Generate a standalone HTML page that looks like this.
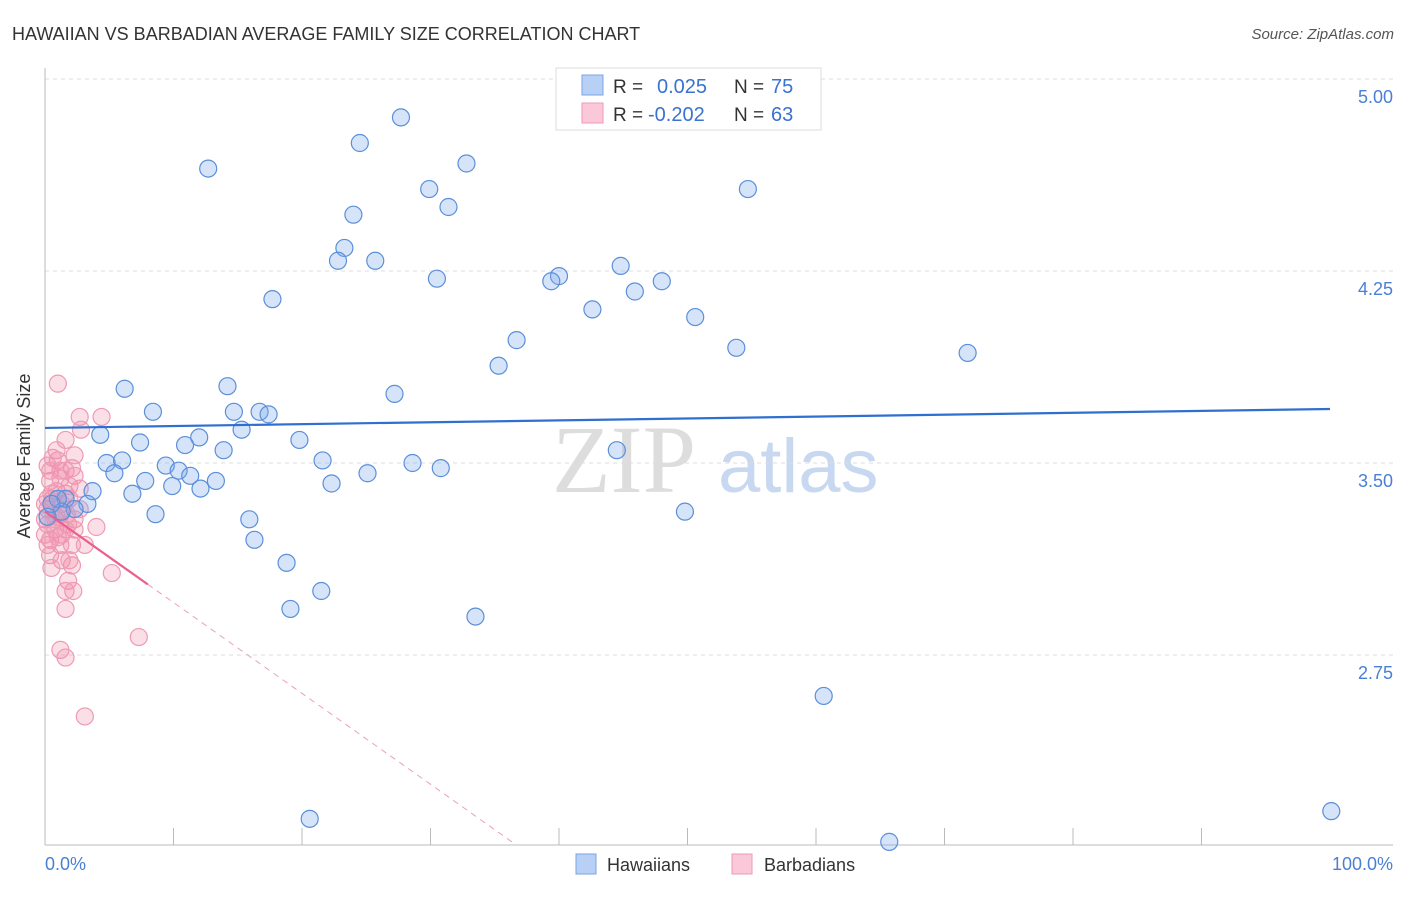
<!DOCTYPE html>
<html><head><meta charset="utf-8"><style>
body{margin:0;background:#fff;font-family:"Liberation Sans",sans-serif;}
</style></head><body>
<svg id="chart" width="1406" height="892" xmlns="http://www.w3.org/2000/svg">
<text x="12" y="40" font-size="18" fill="#333">HAWAIIAN VS BARBADIAN AVERAGE FAMILY SIZE CORRELATION CHART</text>
<text x="1394" y="39" font-size="15" fill="#555" font-style="italic" text-anchor="end">Source: ZipAtlas.com</text>
<g>
<text x="552" y="492" font-size="96" fill="#ddd" font-family="Liberation Serif">ZIP</text>
<text x="718" y="492" font-size="76" fill="#c8d8f0">atlas</text>
</g>
<g id="grid"></g>
<g id="axes"></g>
<g id="pts"></g>
<g id="trend"></g>
<text x="30" y="456" font-size="18" fill="#333" text-anchor="middle" transform="rotate(-90 30 456)">Average Family Size</text>
<text x="45" y="870" font-size="18" fill="#4a7fd6">0.0%</text>
<text x="1393" y="870" font-size="18" fill="#4a7fd6" text-anchor="end">100.0%</text>
<g>
<rect x="556" y="68" width="265" height="62" fill="#fff" stroke="#ddd"/>
<rect x="582" y="75" width="21" height="20" fill="#b8d0f5" stroke="#7aa4e4"/>
<rect x="582" y="103" width="21" height="20" fill="#fac8d8" stroke="#ef9ab6"/>
<text x="613" y="93" font-size="19" fill="#333">R = </text><text x="657" y="93" font-size="20" fill="#3a72d0">0.025</text>
<text x="734" y="93" font-size="19" fill="#333">N = </text><text x="771" y="93" font-size="20" fill="#3a72d0">75</text>
<text x="613" y="121" font-size="19" fill="#333">R = </text><text x="648" y="121" font-size="20" fill="#3a72d0">-0.202</text>
<text x="734" y="121" font-size="19" fill="#333">N = </text><text x="771" y="121" font-size="20" fill="#3a72d0">63</text>
</g>
<g>
<rect x="576" y="854" width="20" height="20" fill="#b8d0f5" stroke="#7aa4e4"/>
<text x="607" y="871" font-size="18" fill="#333">Hawaiians</text>
<rect x="732" y="854" width="20" height="20" fill="#fac8d8" stroke="#ef9ab6"/>
<text x="764" y="871" font-size="18" fill="#333">Barbadians</text>
</g>
</svg>
<script>
const yTicks=[5.00,4.25,3.50,2.75];
const yTickLabels=["5.00","4.25","3.50","2.75"];
const xTicks=[0,10,20,30,40,50,60,70,80,90];
const hawX=[12.7,27.7,24.5,32.8,29.9,54.7,24.0,31.4,23.3,22.8,25.7,30.5,40.0,39.4,44.8,48.0,45.9,17.7,42.6,50.6,36.7,53.8,71.8,35.3,6.2,14.2,27.2,8.4,14.7,16.7,17.4,4.3,15.3,7.4,12.0,10.9,19.8,13.9,44.5,4.8,6.0,9.4,5.4,21.6,28.6,30.8,10.4,11.3,25.1,7.8,9.9,12.1,13.3,22.3,3.7,6.8,1.6,3.3,2.3,8.6,49.8,15.9,16.3,18.8,21.5,19.1,33.5,60.6,20.6,100.1,65.7,1.3,1.0,0.5,0.2];
const hawY=[4.65,4.85,4.75,4.67,4.57,4.57,4.47,4.50,4.34,4.29,4.29,4.22,4.23,4.21,4.27,4.21,4.17,4.14,4.10,4.07,3.98,3.95,3.93,3.88,3.79,3.80,3.77,3.70,3.70,3.70,3.69,3.61,3.63,3.58,3.60,3.57,3.59,3.55,3.55,3.50,3.51,3.49,3.46,3.51,3.50,3.48,3.47,3.45,3.46,3.43,3.41,3.40,3.43,3.42,3.39,3.38,3.36,3.34,3.32,3.30,3.31,3.28,3.20,3.11,3.00,2.93,2.90,2.59,2.11,2.14,2.02,3.31,3.36,3.34,3.29];
const barX=[1.0,2.7,4.4,2.8,0.9,1.0,2.1,0.2,0.4,1.2,2.3,0.9,1.6,0.6,0.2,1.2,2.3,0.2,0.8,1.3,2.3,4.0,0.4,1.2,2.1,3.1,0.4,1.3,2.1,0.5,1.8,2.2,1.6,1.6,5.2,7.3,1.2,1.6,3.1,1.9,0.0,0.0,0.5,1.6,1.9,0.8,0.2,0.2,1.3,2.7,1.8,1.0,0.0,1.2,2.3,0.6,1.6,0.9,2.7,1.7,0.4,1.6,1.9];
const barY=[3.81,3.68,3.68,3.63,3.55,3.51,3.48,3.49,3.43,3.44,3.45,3.39,3.38,3.36,3.32,3.30,3.28,3.26,3.24,3.22,3.24,3.25,3.20,3.18,3.18,3.18,3.14,3.12,3.10,3.09,3.04,3.00,3.00,2.93,3.07,2.82,2.77,2.74,2.51,3.36,3.28,3.22,3.38,3.47,3.41,3.28,3.18,3.36,3.34,3.32,3.26,3.21,3.34,3.47,3.53,3.52,3.59,3.29,3.40,3.30,3.47,3.24,3.12];
const hawTrend=[3.637,3.711];
const barTrend=[3.31,-0.0355];

const NS="http://www.w3.org/2000/svg";
const X=p=>45+p*12.85;
const Y=v=>79+(5-v)*256;
function mk(tag,attrs,parent){const e=document.createElementNS(NS,tag);for(const k in attrs)e.setAttribute(k,attrs[k]);document.getElementById(parent).appendChild(e);return e;}
yTicks.forEach((v,i)=>{
 const l=mk('line',{x1:45,x2:1393,y1:Y(v),y2:Y(v),stroke:'#ddd','stroke-dasharray':'4,4'},'grid');
 
 
 const t=mk('text',{x:1393,y:Y(v)+24,'font-size':18,fill:'#4a7fd6','text-anchor':'end'},'grid');
 t.textContent=yTickLabels[i];
 
 
});
const ax=mk('line',{x1:45,x2:45,y1:68,y2:845,stroke:'#bbb'},'axes');


const bx=mk('line',{x1:45,x2:1393,y1:845,y2:845,stroke:'#bbb'},'axes');


xTicks.forEach(p=>{
 const t=mk('line',{x1:X(p),x2:X(p),y1:828,y2:845,stroke:'#bbb'},'axes');
 
 
});
barX.forEach((p,i)=>{
 const c=mk('circle',{cx:X(p),cy:Y(barY[i]),r:8.5,fill:'rgba(242,140,170,0.28)',stroke:'#ee9ab5','stroke-width':1.2},'pts');
 
 
});
hawX.forEach((p,i)=>{
 const c=mk('circle',{cx:X(p),cy:Y(hawY[i]),r:8.5,fill:'rgba(120,165,235,0.3)',stroke:'#5b8fd9','stroke-width':1.2},'pts');
 
 
});
const hl=mk('line',{x1:X(0),y1:Y(hawTrend[0]),x2:X(100),y2:Y(hawTrend[1]),stroke:'#2f6fd0','stroke-width':2.2},'trend');


const bEnd=8, yMin=5-766/256, bDash=(yMin-barTrend[0])/barTrend[1];
const bl=mk('line',{x1:X(0),y1:Y(barTrend[0]),x2:X(bEnd),y2:Y(barTrend[0]+barTrend[1]*bEnd),stroke:'#e8608f','stroke-width':2.2},'trend');


const bd=mk('line',{x1:X(bEnd),y1:Y(barTrend[0]+barTrend[1]*bEnd),x2:X(bDash),y2:Y(yMin),stroke:'#eaa0b8','stroke-width':1,'stroke-dasharray':'6,5'},'trend');


</script>
</body></html>
